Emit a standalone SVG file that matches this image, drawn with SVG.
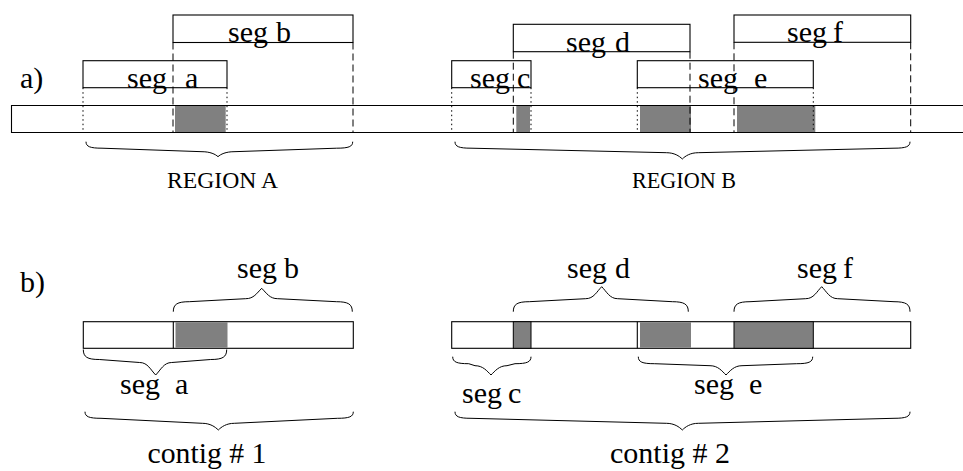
<svg xmlns="http://www.w3.org/2000/svg" width="963" height="471" viewBox="0 0 963 471">
  <style>
    .ln { fill: none; stroke: #000; stroke-width: 1.1; }
    .box { fill: none; stroke: #000; stroke-width: 1.1; }
    .fill { fill: #808080; stroke: none; }
    .fillb { fill: #808080; stroke: #000; stroke-width: 1; }
    .dash { fill: none; stroke: #000; stroke-width: 1; stroke-dasharray: 7 4; }
    .dot { fill: none; stroke: #000; stroke-width: 1; stroke-dasharray: 1.5 3; }
    .brace { fill: none; stroke: #000; stroke-width: 1; }
    .lbl { font-family: "Liberation Serif", "Times New Roman", serif; font-size: 30px; fill: #000; }
    .reg { font-family: "Liberation Serif", "Times New Roman", serif; font-size: 22.5px; fill: #000; }
    .ctg { font-family: "Liberation Serif", "Times New Roman", serif; font-size: 30px; fill: #000; }
  </style>

  <!-- (a) segments laid over the reference sequence -->
  <g id="part-a">
    <text class="lbl" x="20" y="88">a)</text>

    <!-- sequence bar, open at the right -->
    <g id="bar-a">
      <rect class="fill" x="175" y="106" width="50.7" height="26"/>
      <rect class="fill" x="516.3" y="106" width="13.7" height="26"/>
      <rect class="fill" x="640" y="106" width="51" height="26"/>
      <rect class="fill" x="737" y="106" width="78.3" height="26"/>
      <path class="ln" d="M963,105.5 H11.5 V132.5 H963"/>
    </g>

    <g id="seg-a-top">
      <rect class="box" x="83" y="60.7" width="144" height="27"/>
      <text class="lbl" x="127" y="87.5">seg <tspan x="185">a</tspan></text>
    </g>
    <g id="seg-b-top">
      <rect class="box" x="173" y="15" width="180" height="27.5"/>
      <text class="lbl" x="228" y="42">seg <tspan x="276">b</tspan></text>
    </g>
    <g id="seg-c-top">
      <rect class="box" x="451.7" y="60.7" width="79.3" height="27"/>
      <text class="lbl" x="470" y="87.5">seg <tspan x="517">c</tspan></text>
    </g>
    <g id="seg-d-top">
      <rect class="box" x="513.3" y="24.3" width="176.7" height="27.4"/>
      <text class="lbl" x="566" y="51.5">seg <tspan x="615">d</tspan></text>
    </g>
    <g id="seg-e-top">
      <rect class="box" x="637.3" y="60.7" width="176" height="27"/>
      <text class="lbl" x="698" y="87.5">seg <tspan x="754">e</tspan></text>
    </g>
    <g id="seg-f-top">
      <rect class="box" x="734" y="15" width="176.7" height="27.3"/>
      <text class="lbl" x="787" y="42">seg <tspan x="833">f</tspan></text>
    </g>

    <!-- guide lines from segment ends down through the bar -->
    <g id="guides">
      <path class="dot" d="M83,87.7 V132.5 M227,87.7 V132.5 M451.7,87.7 V132.5 M531,87.7 V132.5 M637.3,87.7 V132.5 M813.3,87.7 V132.5"/>
      <path class="dash" d="M173,42.5 V132.5 M353,42.5 V132.5 M513.3,51.7 V132.5 M690,51.7 V132.5 M734,42.3 V132.5 M910.7,42.3 V132.5"/>
    </g>

    <g id="region-a">
      <text class="reg" x="167" y="187.5" textLength="111" lengthAdjust="spacingAndGlyphs">REGION A</text>
    </g>
    <g id="region-b">
      <text class="reg" x="632" y="187.5" textLength="104" lengthAdjust="spacingAndGlyphs">REGION B</text>
    </g>
  </g>

  <!-- (b) resulting contigs -->
  <g id="part-b">
    <text class="lbl" x="20" y="291.5">b)</text>

    <g id="contig-1">
      <rect class="box" x="83.3" y="321.7" width="270" height="26.6"/>
      <rect class="fill" x="175.5" y="322.2" width="52" height="25.6"/>
      <path class="ln" d="M173.3,321.7 V348.3"/>
      <text class="ctg" x="147.5" y="463" textLength="119" lengthAdjust="spacingAndGlyphs">contig # 1</text>
    </g>
    <g id="contig-2">
      <rect class="box" x="451.7" y="321.7" width="459" height="26.6"/>
      <rect class="fillb" x="513.3" y="321.7" width="17.7" height="26.6"/>
      <rect class="fill" x="640" y="322.2" width="51" height="25.6"/>
      <path class="ln" d="M637.3,321.7 V348.3"/>
      <rect class="fillb" x="734" y="321.7" width="79.3" height="26.6"/>
      <text class="ctg" x="610" y="463" textLength="120" lengthAdjust="spacingAndGlyphs">contig # 2</text>
    </g>

    <text id="lbl-seg-b" class="lbl" x="237" y="277.5">seg <tspan x="284">b</tspan></text>
    <text id="lbl-seg-d" class="lbl" x="567" y="277.5">seg <tspan x="615">d</tspan></text>
    <text id="lbl-seg-f" class="lbl" x="797" y="277.5">seg <tspan x="843">f</tspan></text>
    <text id="lbl-seg-a" class="lbl" x="120" y="393.5">seg <tspan x="175">a</tspan></text>
    <text id="lbl-seg-c" class="lbl" x="462" y="402.5">seg <tspan x="508">c</tspan></text>
    <text id="lbl-seg-e" class="lbl" x="694" y="393.5">seg <tspan x="749">e</tspan></text>
  </g>

  <!-- curly braces -->
  <g id="braces">
    <path class="brace" d="M86,141.7 C86,146.6 90,148.2 102,148.2 L202,151.7 C210,151.7 215.5,154.2 218,156.7 C220.5,154.2 226,151.7 234,151.7 L336.7,148.2 C348.7,148.2 352.7,146.6 352.7,141.7"/>
    <path class="brace" d="M455,141.7 C455,146.6 459,148.2 471,148.2 L666.3,152.7 C674.3,152.7 679.3,156 682.3,159 C685.3,156 690.3,152.7 698.3,152.7 L894,148.2 C906,148.2 910,146.6 910,141.7"/>
    <path class="brace" d="M173.3,311.7 C173.3,304.2 177.3,301.7 189.3,301.7 L245.7,298.7 C253.7,298.7 256.7,293.3 261.7,288.3 C266.7,293.3 269.7,298.7 277.7,298.7 L336.3,301.7 C348.3,301.7 352.3,304.2 352.3,311.7"/>
    <path class="brace" d="M513.3,311.7 C513.3,304.2 517.3,301.7 529.3,301.7 L585.7,298.7 C593.7,298.7 596.7,291.7 601.7,286.7 C606.7,291.7 609.7,298.7 617.7,298.7 L672.3,301.7 C684.3,301.7 688.3,304.2 688.3,311.7"/>
    <path class="brace" d="M734,311.7 C734,304.2 738,301.7 750,301.7 L805.7,298.7 C813.7,298.7 816.7,291.7 821.7,286.7 C826.7,291.7 829.7,298.7 837.7,298.7 L894,301.7 C906,301.7 910,304.2 910,311.7"/>
    <path class="brace" d="M83.3,349.5 C83.3,357 87.3,359.5 99.3,359.5 L139.7,362.5 C147.7,362.5 150.7,370 155.7,375 C160.7,370 163.7,362.5 171.7,362.5 L210.7,359.5 C222.7,359.5 226.7,357 226.7,349.5"/>
    <path class="brace" d="M452.7,356.7 C452.7,362 456.7,363.7 468.7,363.7 L475,365.7 C483,365.7 487,371 491,375 C495,371 499,365.7 507,365.7 L515,363.7 C527,363.7 531,362 531,356.7"/>
    <path class="brace" d="M638.3,356.7 C638.3,362 642.3,363.7 654.3,363.7 L710,365.7 C718,365.7 722,371 726,375 C730,371 734,365.7 742,365.7 L796.7,363.7 C808.7,363.7 812.7,362 812.7,356.7"/>
    <path class="brace" d="M85,411.7 C85,416.7 89,418.3 101,418.3 L202.3,423.3 C210.3,423.3 215.3,427 218.3,430 C221.3,427 226.3,423.3 234.3,423.3 L337.3,418.3 C349.3,418.3 353.3,416.7 353.3,411.7"/>
    <path class="brace" d="M455,411.7 C455,416.7 459,418.3 471,418.3 L666.3,423.3 C674.3,423.3 679.3,427 682.3,430 C685.3,427 690.3,423.3 698.3,423.3 L894,418.3 C906,418.3 910,416.7 910,411.7"/>
  </g>
</svg>
